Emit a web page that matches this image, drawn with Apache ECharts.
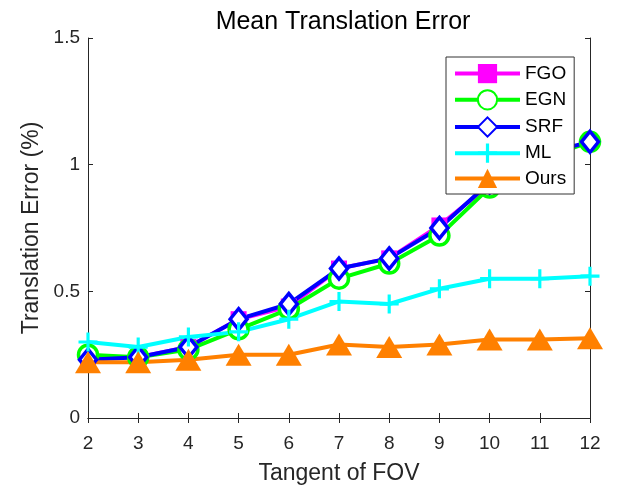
<!DOCTYPE html>
<html>
<head>
<meta charset="utf-8">
<script src="https://cdn.jsdelivr.net/npm/echarts@6/dist/echarts.min.js"></script>
<style>
  html, body { margin: 0; padding: 0; background: #fff; }
  #chart { width: 620px; height: 486px; }
</style>
</head>
<body>
<div id="chart"></div>
<script>
// Tangent of FOV values on the x axis
const tangentFov = [2, 3, 4, 5, 6, 7, 8, 9, 10, 11, 12];

// Mean translation error (%) for each method
const fgo  = [0.24, 0.24, 0.28, 0.39, 0.44, 0.59, 0.63, 0.76, 0.92, 1.03, 1.09];
const egn  = [0.25, 0.24, 0.27, 0.35, 0.43, 0.55, 0.61, 0.72, 0.91, 1.02, 1.09];
const srf  = [0.23, 0.24, 0.28, 0.39, 0.45, 0.59, 0.63, 0.75, 0.93, 1.04, 1.09];
const ml   = [0.30, 0.28, 0.32, 0.34, 0.39, 0.46, 0.45, 0.51, 0.55, 0.55, 0.56];
const ours = [0.22, 0.22, 0.23, 0.25, 0.25, 0.29, 0.28, 0.29, 0.31, 0.31, 0.315];

const yTicks = [0, 0.5, 1, 1.5];
const yTickLabels = ['0', '0.5', '1', '1.5'];

const FONT = 'Liberation Sans, Arial, sans-serif';
const AXIS_COLOR = '#262626';
const PLUS = 'path://M5,0H7V5H12V7H7V12H5V7H0V5H5Z';

function pairs(vals) {
  return tangentFov.map((x, i) => [x, vals[i]]);
}

function makeSeries(name, vals, color, symbol, size, hollow) {
  return {
    name: name,
    type: 'line',
    data: pairs(vals),
    symbol: symbol,
    symbolSize: size,
    showAllSymbol: true,
    lineStyle: { color: color, width: 4 },
    itemStyle: {
      color: hollow ? '#ffffff' : color,
      borderColor: color,
      borderWidth: hollow ? 3.5 : 0
    },
    emphasis: { disabled: true },
    animation: false
  };
}

const chart = echarts.init(document.getElementById('chart'), null, { renderer: 'canvas' });

const axisCommon = {
  type: 'value',
  axisLine: { show: true, lineStyle: { color: AXIS_COLOR, width: 1 } },
  axisTick: { show: true, inside: true, length: 5, lineStyle: { color: AXIS_COLOR } },
  splitLine: { show: false }
};

chart.setOption({
  backgroundColor: '#ffffff',
  textStyle: { fontFamily: FONT },
  title: {
    text: 'Mean Translation Error',
    left: 338,
    textAlign: 'center',
    top: 5,
    textStyle: { fontFamily: FONT, fontSize: 25, fontWeight: 'normal', color: '#000' }
  },
  grid: { left: 88, right: 30, top: 38, bottom: 68, show: false, outerBoundsMode: 'none', containLabel: false },
  legend: {
    orient: 'vertical',
    left: 446,
    top: 57,
    itemWidth: 65,
    itemHeight: 24,
    itemGap: 6,
    padding: [7, 8, 6, 7],
    borderColor: '#333',
    borderWidth: 1,
    backgroundColor: '#fff',
    lineStyle: { width: 4 },
    textStyle: { fontFamily: FONT, fontSize: 19, color: '#000' },
    data: ['FGO', 'EGN', 'SRF', 'ML', 'Ours']
  },
  xAxis: [
    Object.assign({}, axisCommon, {
      min: 2, max: 12, interval: 1,
      position: 'bottom',
      name: 'Tangent of FOV',
      nameLocation: 'middle',
      nameGap: 44,
      nameTextStyle: { fontFamily: FONT, fontSize: 23, color: AXIS_COLOR },
      axisLabel: { fontFamily: FONT, fontSize: 19, color: AXIS_COLOR, margin: 16 }
    }),
    Object.assign({}, axisCommon, {
      min: 2, max: 12, interval: 1,
      position: 'top',
      axisLabel: { show: false }
    })
  ],
  yAxis: [
    Object.assign({}, axisCommon, {
      min: yTicks[0], max: yTicks[yTicks.length - 1], interval: 0.5,
      position: 'left',
      name: 'Translation Error (%)',
      nameLocation: 'middle',
      nameGap: 44,
      nameTextStyle: { fontFamily: FONT, fontSize: 23, color: AXIS_COLOR },
      axisLabel: {
        fontFamily: FONT, fontSize: 19, color: AXIS_COLOR, margin: 8,
        formatter: function (v) {
          const i = yTicks.findIndex(t => Math.abs(t - v) < 1e-9);
          return i >= 0 ? yTickLabels[i] : '';
        }
      }
    }),
    Object.assign({}, axisCommon, {
      min: yTicks[0], max: yTicks[yTicks.length - 1], interval: 0.5,
      position: 'right',
      axisLabel: { show: false }
    })
  ],
  series: [
    makeSeries('FGO', fgo, '#ff00ff', 'rect', 16, false),
    makeSeries('EGN', egn, '#00ff00', 'circle', 19, true),
    makeSeries('SRF', srf, '#0000ff', 'diamond', [17, 21], true),
    makeSeries('ML', ml, '#00ffff', PLUS, 19, false),
    makeSeries('Ours', ours, '#ff8000', 'triangle', [26, 22], false)
  ]
});
</script>
</body>
</html>
